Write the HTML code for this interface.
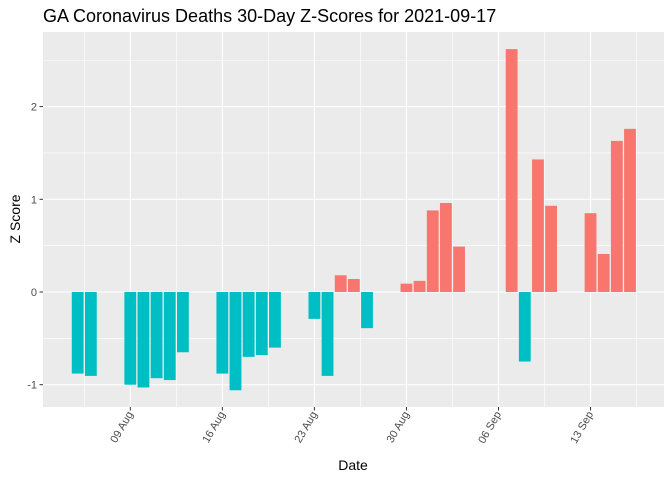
<!DOCTYPE html>
<html><head><meta charset="utf-8"><style>
body{margin:0;background:#fff;font-family:"Liberation Sans",sans-serif}
</style></head><body>
<svg id="chart" width="672" height="480" xmlns="http://www.w3.org/2000/svg" font-family="Liberation Sans, sans-serif">
<text x="43" y="22" font-size="18" fill="#000">GA Coronavirus Deaths 30-Day Z-Scores for 2021-09-17</text>
<rect x="43" y="32" width="621" height="375" fill="#EBEBEB"/>
<g id="grid"></g><g id="bars"></g><g id="axes"></g>
<text x="353" y="470" font-size="14" text-anchor="middle">Date</text>
<text transform="translate(20,219) rotate(-90)" font-size="14" text-anchor="middle">Z Score</text>
</svg>
<script>
const dates=["2021-08-05","2021-08-06","2021-08-09","2021-08-10","2021-08-11","2021-08-12","2021-08-13","2021-08-16","2021-08-17","2021-08-18","2021-08-19","2021-08-20","2021-08-23","2021-08-24","2021-08-25","2021-08-26","2021-08-27","2021-08-30","2021-08-31","2021-09-01","2021-09-02","2021-09-03","2021-09-07","2021-09-08","2021-09-09","2021-09-10","2021-09-13","2021-09-14","2021-09-15","2021-09-16"];
const zscores=[-0.88,-0.905,-1.0,-1.03,-0.93,-0.95,-0.65,-0.88,-1.06,-0.70,-0.68,-0.60,-0.29,-0.905,0.18,0.14,-0.39,0.09,0.12,0.88,0.96,0.49,2.62,-0.75,1.43,0.93,0.85,0.41,1.63,1.76];
const xTickLabels=["09 Aug","16 Aug","23 Aug","30 Aug","06 Sep","13 Sep"];
const xTickDates=["2021-08-09","2021-08-16","2021-08-23","2021-08-30","2021-09-06","2021-09-13"];
const yTicks=[-1,0,1,2];
const NS="http://www.w3.org/2000/svg";
const day=d=>Date.parse(d+"T00:00:00Z")/86400000;
const d0=day("2021-08-09"), px=13.15;
const X=d=>130.3+(day(d)-d0)*px;
const Y=v=>292-v*92.7;
function mk(tag,attrs,parent){const e=document.createElementNS(NS,tag);for(const k in attrs)e.setAttribute(k,attrs[k]);parent.appendChild(e);return e;}
const grid=document.getElementById('grid'),bars=document.getElementById('bars'),axes=document.getElementById('axes');
for(let i=0;i<yTicks.length-1;i++){const y=Y((yTicks[i]+yTicks[i+1])/2);const l=mk('line',{x1:43,x2:664,y1:y,y2:y,stroke:'#fff','stroke-width':0.6},grid);

}
{const y=Y(2.5);const l=mk('line',{x1:43,x2:664,y1:y,y2:y,stroke:'#fff','stroke-width':0.6},grid);

}
const xs=xTickDates.map(X);
const minors=[xs[0]-3.5*px];for(let i=0;i<xs.length;i++)minors.push(xs[i]+3.5*px);
minors.forEach(x=>{const l=mk('line',{x1:x,x2:x,y1:32,y2:407,stroke:'#fff','stroke-width':0.6},grid);

});
yTicks.forEach(v=>{const y=Y(v);const l=mk('line',{x1:43,x2:664,y1:y,y2:y,stroke:'#fff','stroke-width':1.1},grid);


const t=mk('line',{x1:39.5,x2:43,y1:y,y2:y,stroke:'#333','stroke-width':1},axes);


const tx=mk('text',{x:37,y:y+4,'font-size':11,fill:'#4D4D4D','text-anchor':'end'},axes);tx.textContent=v;

});
xTickDates.forEach((d,i)=>{const x=X(d);const l=mk('line',{x1:x,x2:x,y1:32,y2:407,stroke:'#fff','stroke-width':1.1},grid);


const t=mk('line',{x1:x,x2:x,y1:407,y2:410.5,stroke:'#333','stroke-width':1},axes);


const tx=mk('text',{transform:`translate(${x+3},${414}) rotate(-60)`,'font-size':11,fill:'#4D4D4D','text-anchor':'end'},axes);tx.textContent=xTickLabels[i];

});
const bw=px*0.9;
dates.forEach((d,i)=>{const v=zscores[i];const y0=Y(0),y1=Y(v);
const r=mk('rect',{x:X(d)-bw/2,y:Math.min(y0,y1),width:bw,height:Math.abs(y1-y0),fill:v>=0?'#F8766D':'#00BFC4'},bars);

});
</script>
</body></html>
